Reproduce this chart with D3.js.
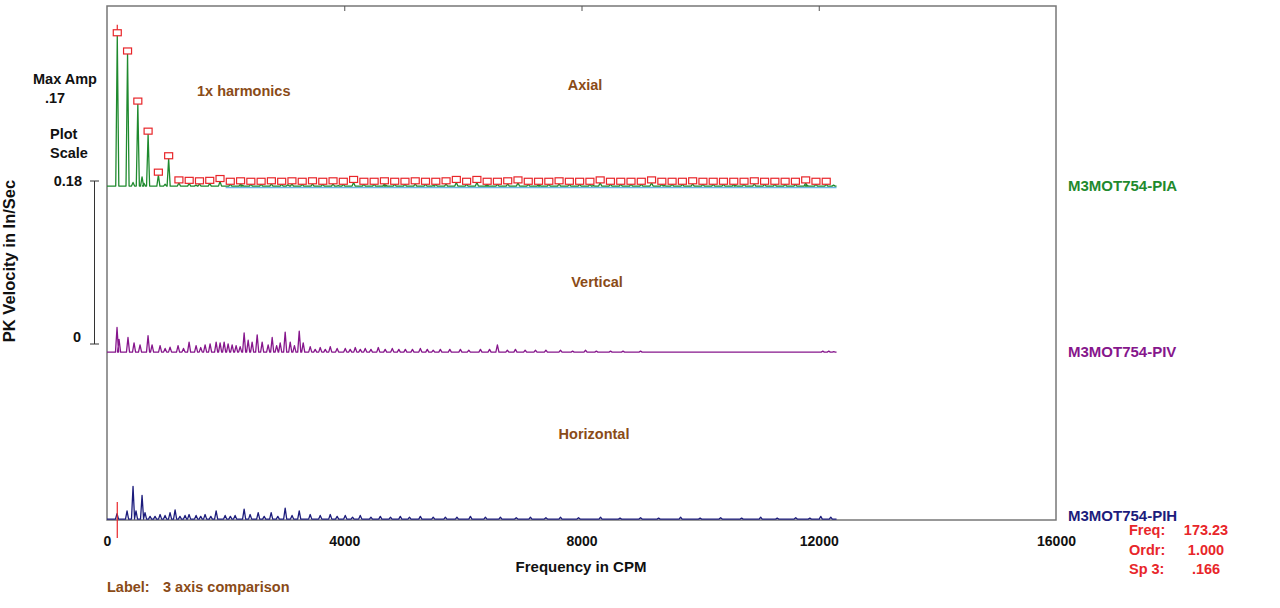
<!DOCTYPE html>
<html>
<head>
<meta charset="utf-8">
<script src="https://cdn.jsdelivr.net/npm/d3@7"></script>
<style>
  html, body { margin: 0; padding: 0; background: #fff; }
  svg { display: block; font-family: "Liberation Sans", Arial, sans-serif; font-weight: bold; }
</style>
</head>
<body>
<svg id="chart" width="1280" height="608"></svg>
<script>
// running speed (1x) and cursor readout
const runSpeed = 173.23;
const cursorOrder = 1.0;
const cursorAmp = 0.166;
const maxAmp = '.17';
const plotScale = 0.18;

const xTicks = [0, 4000, 8000, 12000, 16000];
const traceEnd = 12300;

// 1x harmonic marker amplitudes, orders 1..70 (axial)
const harmonicAmps = [
  0.166, 0.146, 0.091, 0.058, 0.013, 0.031, 0.0045, 0.004, 0.0035, 0.004,
  0.006, 0.003, 0.0035, 0.003, 0.003, 0.0035, 0.003, 0.0035, 0.003, 0.0035,
  0.003, 0.0035, 0.003, 0.005, 0.003, 0.003, 0.0035, 0.003, 0.003, 0.0035,
  0.003, 0.003, 0.0035, 0.005, 0.003, 0.005, 0.003, 0.003, 0.0035, 0.0045,
  0.003, 0.003, 0.003, 0.0035, 0.003, 0.003, 0.003, 0.0045, 0.003, 0.003,
  0.003, 0.003, 0.0045, 0.003, 0.003, 0.003, 0.0035, 0.003, 0.003, 0.003,
  0.003, 0.003, 0.0035, 0.003, 0.003, 0.003, 0.003, 0.0045, 0.003, 0.003
];

// non-harmonic content of the axial trace [cpm, in/sec]
const axialExtra = [
  [439, 0.005], [591, 0.011], [624, 0.004], [980, 0.003], [1500, 0.002],
  [2280, 0.002], [3050, 0.0025], [3900, 0.0015], [4700, 0.002], [5500, 0.0015],
  [6400, 0.002], [7300, 0.0015], [8200, 0.0015], [9400, 0.0015], [10600, 0.0015],
  [11800, 0.002], [12250, 0.002]
];

const verticalPeaks = [
  [169, 0.028], [203, 0.015], [354, 0.017], [456, 0.011], [557, 0.009],
  [692, 0.019], [760, 0.009], [895, 0.008], [980, 0.005], [1063, 0.0065],
  [1198, 0.008], [1290, 0.005], [1384, 0.012], [1502, 0.008], [1580, 0.006],
  [1654, 0.009], [1738, 0.010], [1840, 0.012], [1907, 0.011], [1975, 0.012],
  [2042, 0.010], [2110, 0.009], [2177, 0.008], [2245, 0.007], [2312, 0.022],
  [2380, 0.014], [2447, 0.012], [2532, 0.020], [2616, 0.012], [2717, 0.009],
  [2785, 0.017], [2860, 0.008], [2920, 0.011], [3004, 0.023], [3089, 0.012],
  [3160, 0.008], [3241, 0.024], [3308, 0.011], [3426, 0.007], [3510, 0.004],
  [3595, 0.006], [3680, 0.004], [3764, 0.007], [3880, 0.005], [4017, 0.005],
  [4100, 0.004], [4186, 0.006], [4270, 0.004], [4354, 0.005], [4450, 0.004],
  [4574, 0.006], [4690, 0.004], [4810, 0.005], [4920, 0.004], [5030, 0.004],
  [5150, 0.004], [5283, 0.005], [5400, 0.004], [5500, 0.003], [5620, 0.004],
  [5780, 0.004], [5958, 0.004], [6100, 0.003], [6296, 0.004], [6450, 0.004],
  [6582, 0.009], [6750, 0.003], [6886, 0.004], [7050, 0.003], [7224, 0.003],
  [7400, 0.003], [7646, 0.003], [7850, 0.002], [8068, 0.003], [8250, 0.002],
  [8490, 0.002], [8700, 0.002], [8996, 0.002], [12068, 0.002], [12169, 0.002],
  [12253, 0.0015]
];

const horizontalPeaks = [
  [169, 0.007], [338, 0.010], [439, 0.037], [489, 0.010], [591, 0.027],
  [641, 0.008], [726, 0.004], [810, 0.004], [895, 0.006], [979, 0.005],
  [1063, 0.008], [1148, 0.011], [1230, 0.004], [1316, 0.005], [1384, 0.006],
  [1502, 0.005], [1580, 0.004], [1654, 0.006], [1750, 0.004], [1840, 0.010],
  [1992, 0.005], [2080, 0.004], [2160, 0.005], [2312, 0.012], [2413, 0.006],
  [2549, 0.008], [2650, 0.004], [2768, 0.008], [2880, 0.004], [3004, 0.013],
  [3120, 0.005], [3241, 0.010], [3426, 0.006], [3595, 0.005], [3764, 0.006],
  [3880, 0.004], [4017, 0.005], [4140, 0.003], [4270, 0.005], [4450, 0.003],
  [4608, 0.004], [4780, 0.003], [4945, 0.004], [5100, 0.003], [5283, 0.004],
  [5500, 0.003], [5705, 0.003], [5900, 0.003], [6127, 0.004], [6380, 0.003],
  [6633, 0.003], [6900, 0.0025], [7139, 0.003], [7400, 0.0025], [7646, 0.003],
  [7950, 0.0025], [8321, 0.003], [8650, 0.002], [8996, 0.0025], [9300, 0.002],
  [9671, 0.003], [10000, 0.002], [10346, 0.0025], [10700, 0.002], [11021, 0.003],
  [11300, 0.002], [11612, 0.0025], [11850, 0.002], [12034, 0.004], [12203, 0.003]
];

const traces = [
  { id: 'M3MOT754-PIA', name: 'Axial', color: '#1f8a2e', base: 187, nameX: 585, nameY: 90 },
  { id: 'M3MOT754-PIV', name: 'Vertical', color: '#86168c', base: 353, nameX: 597, nameY: 287 },
  { id: 'M3MOT754-PIH', name: 'Horizontal', color: '#1c1c7c', base: 520, nameX: 594, nameY: 439 }
];

const brown = '#8a4b17';
const red = '#e8262a';

const createChart = () => {
  const svg = d3.select('#chart');
  const left = 107, right = 1056, top = 6, bottom = 520;
  const ampPx = 164;

  const x = d3.scaleLinear().domain([0, 16000]).range([left, right]);
  const yFor = base => d3.scaleLinear().domain([0, plotScale]).range([base, base - ampPx]);

  // frame
  svg.append('rect')
    .attr('x', left).attr('y', top)
    .attr('width', right - left).attr('height', bottom - top)
    .attr('fill', 'none').attr('stroke', '#777').attr('stroke-width', 1.5);

  // ticks along the top
  svg.append('g')
    .attr('transform', `translate(0,${top})`)
    .call(d3.axisTop(x).tickValues(xTicks.slice(1, -1)).tickSize(-5).tickFormat(''))
    .call(g => g.select('.domain').remove())
    .call(g => g.selectAll('line').attr('stroke', '#555'));

  // tick labels along the bottom
  svg.append('g')
    .attr('transform', `translate(0,${bottom})`)
    .call(d3.axisBottom(x).tickValues(xTicks).tickSize(0).tickPadding(16).tickFormat(d3.format('d')))
    .call(g => g.select('.domain').remove())
    .call(g => g.selectAll('text')
      .attr('fill', '#111')
      .attr('font-size', 14)
      .attr('font-family', '"Liberation Sans", Arial, sans-serif')
      .attr('font-weight', 'bold'));

  const lineGen = d3.line();
  const dw = 26; // half spike width in CPM

  const spikePath = (peaks, y, floor) => {
    const pts = [[x(0), y(floor)]];
    peaks.slice().sort((a, b) => a[0] - b[0]).forEach(([f, a]) => {
      pts.push([x(f - dw), y(floor)], [x(f), y(a)], [x(f + dw), y(floor)]);
    });
    pts.push([x(traceEnd), y(floor)]);
    return lineGen(pts);
  };

  const harmonics = harmonicAmps.map((a, i) => [(i + 1) * runSpeed, a]);

  // band reference line under the axial trace
  const yA = yFor(traces[0].base);
  svg.append('line')
    .attr('x1', x(2000)).attr('x2', x(traceEnd))
    .attr('y1', yA(0) + 0.5).attr('y2', yA(0) + 0.5)
    .attr('stroke', '#6cb6e4').attr('stroke-width', 1.5);

  const peakSets = [harmonics.concat(axialExtra), verticalPeaks, horizontalPeaks];

  traces.forEach((t, i) => {
    const y = yFor(t.base);
    svg.append('path')
      .attr('d', spikePath(peakSets[i], y, 0.001))
      .attr('fill', 'none')
      .attr('stroke', t.color)
      .attr('stroke-width', 1.3)
      .attr('stroke-linejoin', 'round');

    svg.append('text')
      .attr('x', 1068).attr('y', t.base + (i === 2 ? 1 : 4))
      .attr('fill', t.color)
      .attr('font-size', 15)
      .text(t.id);

    svg.append('text')
      .attr('x', t.nameX).attr('y', t.nameY)
      .attr('text-anchor', 'middle')
      .attr('fill', brown)
      .attr('font-size', 14.5)
      .text(t.name);
  });

  // harmonic markers
  svg.append('g')
    .selectAll('rect')
    .data(harmonics)
    .join('rect')
    .attr('x', d => x(d[0]) - 4)
    .attr('y', d => yA(d[1]) - 6)
    .attr('width', 8).attr('height', 6)
    .attr('fill', '#fff')
    .attr('stroke', red)
    .attr('stroke-width', 1.2);

  // cursor at 1x
  svg.append('line')
    .attr('x1', x(runSpeed)).attr('x2', x(runSpeed))
    .attr('y1', yA(harmonics[0][1]) - 6).attr('y2', yA(harmonics[0][1]) - 11)
    .attr('stroke', red).attr('stroke-width', 1.2);
  svg.append('line')
    .attr('x1', x(runSpeed)).attr('x2', x(runSpeed))
    .attr('y1', 502).attr('y2', 538)
    .attr('stroke', red).attr('stroke-width', 1.2);

  // plot scale bar
  const ys = d3.scaleLinear().domain([0, plotScale]).range([344, 181]);
  const bar = svg.append('g').attr('stroke', '#333').attr('stroke-width', 1);
  bar.append('line').attr('x1', 94.5).attr('x2', 94.5).attr('y1', ys(plotScale)).attr('y2', ys(0));
  [0, plotScale].forEach(v => {
    bar.append('line').attr('x1', 90).attr('x2', 99).attr('y1', ys(v)).attr('y2', ys(v));
  });
  svg.append('text').attr('x', 82).attr('y', ys(plotScale) + 5)
    .attr('text-anchor', 'end').attr('font-size', 14.5).attr('fill', '#111').text('0.18');
  svg.append('text').attr('x', 81).attr('y', ys(0) - 2)
    .attr('text-anchor', 'end').attr('font-size', 14.5).attr('fill', '#111').text('0');

  const side = [
    ['Max Amp', 33, 84], [maxAmp, 45, 103], ['Plot', 50, 139], ['Scale', 50, 158]
  ];
  side.forEach(([s, tx, ty]) => {
    svg.append('text').attr('x', tx).attr('y', ty)
      .attr('font-size', 14.5).attr('fill', '#111').text(s);
  });

  svg.append('text')
    .attr('transform', 'translate(15,261) rotate(-90)')
    .attr('text-anchor', 'middle')
    .attr('font-size', 16.5)
    .attr('fill', '#111')
    .text('PK Velocity in In/Sec');

  svg.append('text')
    .attr('x', 581).attr('y', 572)
    .attr('text-anchor', 'middle')
    .attr('font-size', 15)
    .attr('fill', '#111')
    .text('Frequency in CPM');

  svg.append('text')
    .attr('x', 197).attr('y', 96)
    .attr('fill', brown).attr('font-size', 14.5)
    .text('1x harmonics');

  svg.append('text').attr('x', 107).attr('y', 592)
    .attr('fill', brown).attr('font-size', 14.5).text('Label:');
  svg.append('text').attr('x', 163).attr('y', 592)
    .attr('fill', brown).attr('font-size', 14.5).text('3 axis comparison');

  // cursor readout
  const readout = [
    ['Freq:', runSpeed.toFixed(2)],
    ['Ordr:', cursorOrder.toFixed(3)],
    ['Sp 3:', d3.format('.3f')(cursorAmp).replace(/^0/, '')]
  ];
  readout.forEach(([k, v], i) => {
    svg.append('text').attr('x', 1129).attr('y', 535 + i * 19.5)
      .attr('fill', red).attr('font-size', 14.5).text(k);
    svg.append('text').attr('x', 1206).attr('y', 535 + i * 19.5)
      .attr('text-anchor', 'middle')
      .attr('fill', red).attr('font-size', 14.5).text(v);
  });
};

window.addEventListener('DOMContentLoaded', () => {
  createChart();
});
</script>
</body>
</html>
